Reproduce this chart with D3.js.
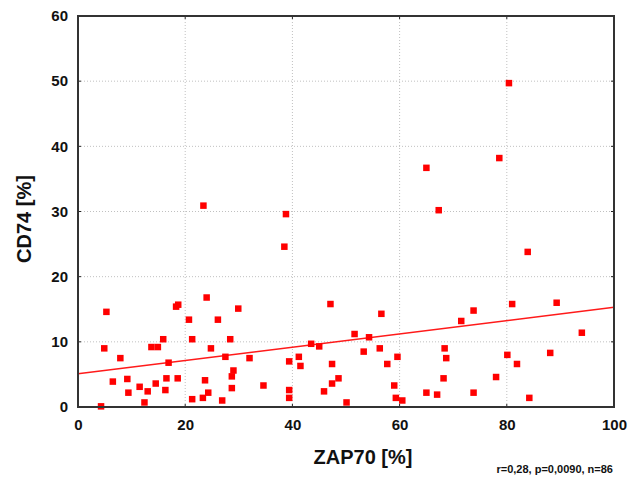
<!DOCTYPE html>
<html lang="en">
<head>
    <meta charset="UTF-8">
    <script src="https://d3js.org/d3.v7.min.js"></script>
    <title>CD74 vs ZAP70</title>
    <style>
        body { margin: 0; background: #fff; }
    </style>
</head>
<body>
    <svg id="svg1" width="637" height="481"></svg>

    <script>
        // values
        const zap70 = [5.3, 4.9, 7.9, 6.5, 9.2, 9.4, 4.3, 11.5, 13.0, 12.4, 14.5, 13.7, 14.9, 15.9, 16.9, 16.5, 16.3, 18.6, 18.3, 18.7,
                       20.7, 21.3, 24.0, 21.3, 23.3, 24.3, 23.7, 24.8, 26.1, 29.9, 28.4, 27.5, 32.0, 29.0, 28.7, 28.7, 26.9, 34.6, 39.4, 41.2,
                       41.5, 39.4, 39.4, 43.5, 45.0, 47.1, 47.4, 48.6, 47.4, 45.9, 50.1, 51.6, 54.3, 56.6, 53.3, 56.3, 57.7, 59.6, 59.0, 59.3,
                       60.5, 65.0, 67.0, 68.2, 68.4, 68.7, 71.5, 73.8, 73.8, 81.0, 89.3, 94.0, 80.1, 81.9, 88.1, 78.0, 84.2,
                       23.4, 38.8, 38.5, 80.4, 65.0, 78.6, 67.3, 83.9];
        const cd74 = [14.6, 9.0, 7.5, 3.9, 4.3, 2.2, 0.1, 3.1, 2.4, 0.7, 3.6, 9.2, 9.2, 10.4, 6.8, 4.4, 2.6, 4.4, 15.4, 15.7,
                      13.4, 10.4, 16.8, 1.2, 1.4, 2.2, 4.1, 9.0, 13.4, 15.1, 10.4, 7.7, 7.5, 5.6, 4.7, 2.9, 1.0, 3.3, 7.0, 7.7,
                      6.3, 2.6, 1.4, 9.7, 9.3, 15.8, 6.6, 4.4, 3.6, 2.4, 0.7, 11.2, 10.7, 14.3, 8.5, 9.0, 6.6, 7.7, 3.3, 1.4,
                      1.0, 2.2, 1.9, 4.4, 9.0, 7.5, 13.2, 14.8, 2.2, 15.8, 16.0, 11.4, 8.0, 6.6, 8.3, 4.6, 1.4,
                      30.9, 29.6, 24.6, 49.7, 36.7, 38.2, 30.2, 23.8];
        const xTicks = [0, 20, 40, 60, 80, 100];
        const yTicks = [0, 10, 20, 30, 40, 50, 60];
        // fitted line as drawn in the picture
        const fitIntercept = 5.1;
        const fitSlope = 0.102;
        const statsText = "r=0,28, p=0,0090, n=86";

        const svg1 = d3.select("svg#svg1");
        const margin = {top: 16, right: 23, bottom: 74, left: 78};
        const width = +svg1.attr("width");
        const height = +svg1.attr("height");
        const chartWidth = width - margin.left - margin.right;
        const chartHeight = height - margin.top - margin.bottom;

        const data = zap70.map((d, i) => ({x: d, y: cd74[i]}));

        const xScale = d3.scaleLinear().domain([0, 100]).range([0, chartWidth]);
        const yScale = d3.scaleLinear().domain([0, 60]).range([chartHeight, 0]);

        let chartArea = svg1.append("g")
            .attr("transform", `translate(${margin.left},${margin.top})`);

        // dotted grid
        chartArea.append("g").selectAll("line")
            .data(xTicks.slice(1, -1))
            .join("line")
            .attr("x1", d => xScale(d)).attr("x2", d => xScale(d))
            .attr("y1", 0).attr("y2", chartHeight)
            .attr("stroke", "#c0c0c0").attr("stroke-dasharray", "1,2");
        chartArea.append("g").selectAll("line")
            .data(yTicks.slice(1, -1))
            .join("line")
            .attr("x1", 0).attr("x2", chartWidth)
            .attr("y1", d => yScale(d)).attr("y2", d => yScale(d))
            .attr("stroke", "#c0c0c0").attr("stroke-dasharray", "1,2");

        // axes
        let bottomAxis = d3.axisBottom(xScale).tickValues(xTicks).tickSize(0).tickPadding(12);
        chartArea.append("g")
            .attr("class", "x axis")
            .attr("transform", `translate(0,${chartHeight})`)
            .call(bottomAxis);
        let leftAxis = d3.axisLeft(yScale).tickValues(yTicks).tickSize(0).tickPadding(10);
        chartArea.append("g")
            .attr("class", "y axis")
            .call(leftAxis);
        chartArea.selectAll(".axis path").remove();
        chartArea.selectAll(".axis text")
            .style("font-family", "'Liberation Sans', Arial, sans-serif")
            .style("font-size", "15px")
            .style("font-weight", "bold")
            .attr("fill", "#111");

        // small inward tick marks on the frame
        const tk = 3;
        chartArea.append("g").selectAll("line")
            .data(xTicks)
            .join("line")
            .attr("x1", d => xScale(d)).attr("x2", d => xScale(d))
            .attr("y1", chartHeight).attr("y2", chartHeight - tk)
            .attr("stroke", "#222");
        chartArea.append("g").selectAll("line")
            .data(xTicks)
            .join("line")
            .attr("x1", d => xScale(d)).attr("x2", d => xScale(d))
            .attr("y1", 0).attr("y2", tk)
            .attr("stroke", "#222");
        chartArea.append("g").selectAll("line")
            .data(yTicks)
            .join("line")
            .attr("x1", 0).attr("x2", tk)
            .attr("y1", d => yScale(d)).attr("y2", d => yScale(d))
            .attr("stroke", "#222");
        chartArea.append("g").selectAll("line")
            .data(yTicks)
            .join("line")
            .attr("x1", chartWidth).attr("x2", chartWidth - tk)
            .attr("y1", d => yScale(d)).attr("y2", d => yScale(d))
            .attr("stroke", "#222");

        // regression line
        const fitLine = d3.line()
            .x(d => xScale(d))
            .y(d => yScale(fitIntercept + fitSlope * d));
        chartArea.append("path")
            .datum([0, 100])
            .attr("fill", "none")
            .attr("stroke", "#ff1a1a")
            .attr("stroke-width", 1.5)
            .attr("d", fitLine);

        // points
        const sq = 6.5;
        chartArea.append("g").selectAll("rect")
            .data(data)
            .join("rect")
            .attr("x", d => xScale(d.x) - sq / 2)
            .attr("y", d => yScale(d.y) - sq / 2)
            .attr("width", sq)
            .attr("height", sq)
            .attr("fill", "#ff0000");

        // frame
        chartArea.append("rect")
            .attr("width", chartWidth)
            .attr("height", chartHeight)
            .attr("fill", "none")
            .attr("stroke", "#333")
            .attr("stroke-width", 2);

        // titles
        svg1.append("text")
            .attr("x", 363)
            .attr("y", 464)
            .attr("text-anchor", "middle")
            .style("font-family", "'Liberation Sans', Arial, sans-serif")
            .style("font-size", "20px")
            .style("font-weight", "bold")
            .attr("fill", "#111")
            .text("ZAP70 [%]");

        svg1.append("text")
            .attr("transform", "translate(31,219) rotate(-90)")
            .attr("text-anchor", "middle")
            .style("font-family", "'Liberation Sans', Arial, sans-serif")
            .style("font-size", "20px")
            .style("font-weight", "bold")
            .attr("fill", "#111")
            .text("CD74 [%]");

        svg1.append("text")
            .attr("x", 613)
            .attr("y", 473)
            .attr("text-anchor", "end")
            .style("font-family", "'Liberation Sans', Arial, sans-serif")
            .style("font-size", "11px")
            .style("font-weight", "bold")
            .attr("fill", "#111")
            .text(statsText);
    </script>
</body>
</html>
